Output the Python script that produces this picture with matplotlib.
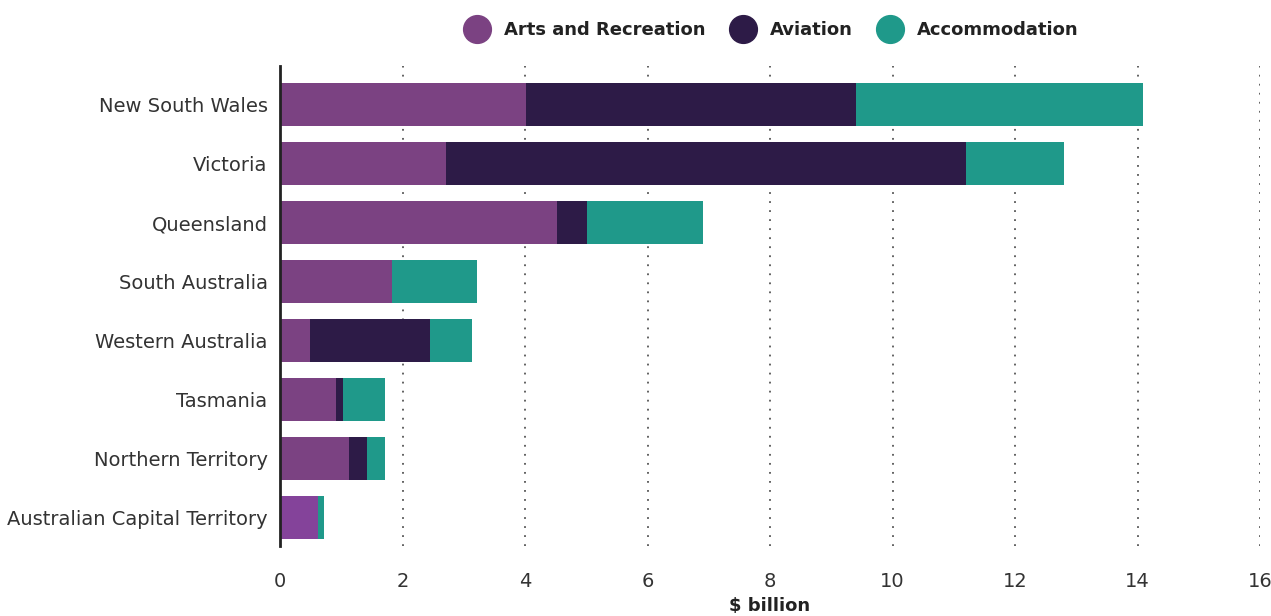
import matplotlib
matplotlib.use("Agg")
from matplotlib import pyplot as plt
from matplotlib.lines import Line2D
import numpy as np

states = ["New South Wales", "Victoria", "Queensland", "South Australia",
          "Western Australia", "Tasmania", "Northern Territory",
          "Australian Capital Territory"]
arts = [4.02, 2.71, 4.52, 1.83, 0.49, 0.91, 1.13, 0.62]
aviation = [5.38, 8.49, 0.49, 0.0, 1.96, 0.12, 0.29, 0.0]
accommodation = [4.69, 1.60, 1.90, 1.39, 0.68, 0.68, 0.29, 0.10]

series_names = ["Arts and Recreation", "Aviation", "Accommodation"]
colors = ["#7b4282", "#2d1b47", "#1f998a"]

plt.rcParams['font.family'] = ['DejaVu Sans']

fig = plt.figure(figsize=(12.71, 6.16), dpi=100)
ax = fig.add_axes([0.2203, 0.1136, 0.7711, 0.7794])

y = np.arange(len(states))
left = np.zeros(len(states))
for vals, c in zip([arts, aviation, accommodation], colors):
    ax.barh(y, vals, left=left, height=0.73, color=c, zorder=3)
    left += np.array(vals)
# ACT arts bar is a touch brighter in the original
ax.patches[len(states) - 1].set_facecolor("#84439a")

ax.set_xlim(0, 16)
ax.set_ylim(7.49, -0.66)
ax.set_xticks(range(0, 17, 2))
ax.set_yticks(y)
ax.set_yticklabels(states, fontsize=14, color="#333333")
ax.tick_params(axis='x', length=0, pad=19, labelsize=14, labelcolor="#333333")
ax.tick_params(axis='y', length=0, pad=9)

ax.xaxis.grid(True, linestyle=(0, (1, 4)), color="#555555", linewidth=1.3, zorder=0)
ax.yaxis.grid(False)
for s in ["top", "right", "bottom"]:
    ax.spines[s].set_visible(False)
ax.spines["left"].set_linewidth(2)
ax.spines["left"].set_color("#222222")
ax.spines["left"].set_zorder(4)

ax.set_xlabel("$ billion", fontsize=13, fontweight="bold", color="#222222", labelpad=4)

handles = [Line2D([], [], marker='o', linestyle='none', markersize=20,
                  markerfacecolor=c, markeredgecolor=c) for c in colors]
leg = fig.legend(handles, series_names, loc='center', bbox_to_anchor=(0.605, 0.951),
                 ncol=3, frameon=False, handletextpad=0.5, columnspacing=1.05,
                 prop={'size': 13, 'weight': 'bold'})
for t in leg.get_texts():
    t.set_color("#222222")

fig.savefig("out.png", dpi=100)
